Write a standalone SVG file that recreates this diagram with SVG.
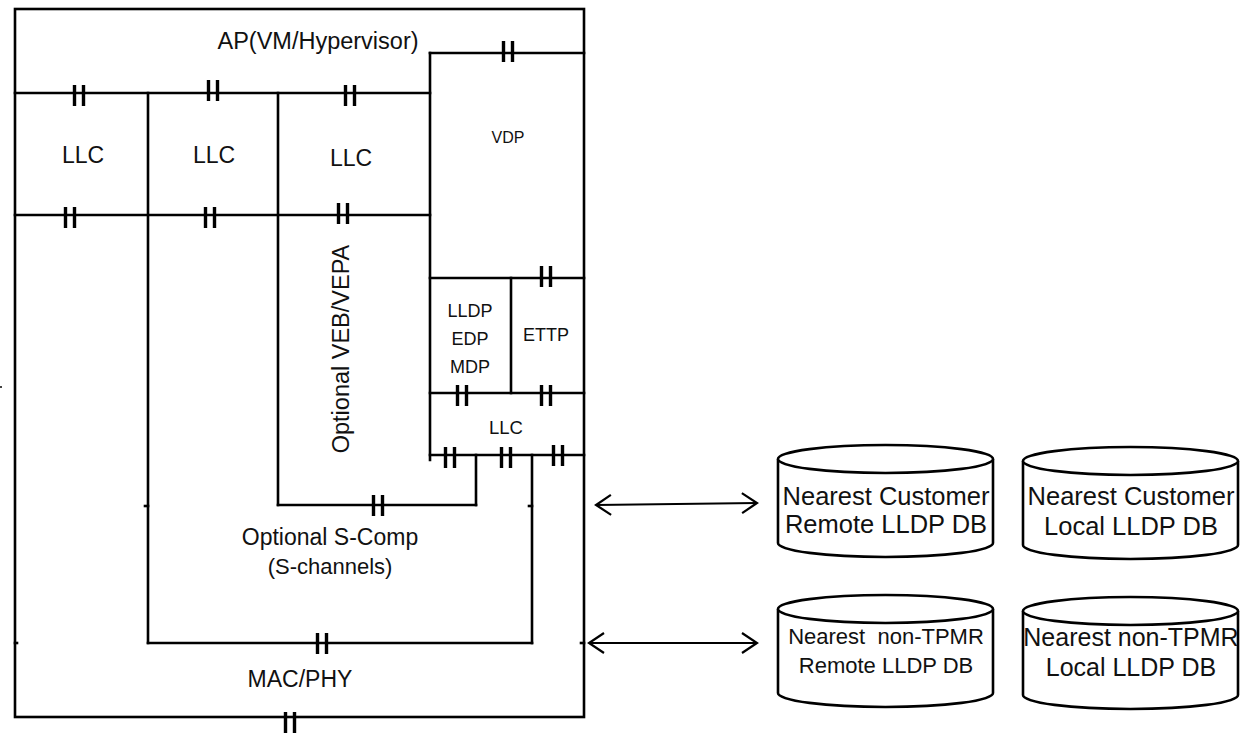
<svg xmlns="http://www.w3.org/2000/svg" xmlns:xlink="http://www.w3.org/1999/xlink" width="1242" height="734" viewBox="0 0 1242 734">
<style>
.ln{stroke:#000;stroke-width:2.6;fill:none;stroke-linecap:square}
.tk{stroke:#000;stroke-width:3.4;fill:none}
.t{font-family:"Liberation Sans",Arial,sans-serif;fill:#111;text-anchor:middle}
.cyl{fill:#fff;stroke:#000;stroke-width:2.6}
.arr{stroke:#000;stroke-width:2.2;fill:none}
</style>
<defs>
<g id="tick"><line class="tk" x1="-4.5" y1="-10" x2="-4.5" y2="11"/><line class="tk" x1="4.5" y1="-10" x2="4.5" y2="11"/></g>
<marker id="ah" markerWidth="22" markerHeight="24" refX="17" refY="12" orient="auto-start-reverse" markerUnits="userSpaceOnUse"><path d="M2,2 L17,12 L2,22" fill="none" stroke="#000" stroke-width="2.2"/></marker>
</defs>
<rect width="1242" height="734" fill="#fff"/>

<g id="stack">
<rect class="ln" x="15" y="9" width="569" height="708"/>
<line class="ln" x1="430" y1="53" x2="584" y2="53"/>
<line class="ln" x1="15" y1="93" x2="430" y2="93"/>
<line class="ln" x1="430" y1="53" x2="430" y2="460"/>
<line class="ln" x1="148" y1="93" x2="148" y2="643"/>
<line class="ln" x1="278" y1="93" x2="278" y2="505"/>
<line class="ln" x1="15" y1="215" x2="430" y2="215"/>
<line class="ln" x1="430" y1="278" x2="584" y2="278"/>
<line class="ln" x1="511" y1="278" x2="511" y2="393"/>
<line class="ln" x1="430" y1="393" x2="584" y2="393"/>
<line class="ln" x1="430" y1="455" x2="584" y2="455"/>
<line class="ln" x1="476" y1="455" x2="476" y2="505"/>
<line class="ln" x1="532" y1="455" x2="532" y2="643"/>
<line class="ln" x1="278" y1="505" x2="476" y2="505"/>
<line class="ln" x1="148" y1="643" x2="532" y2="643"/>
<line class="ln" x1="145" y1="506" x2="148" y2="506"/>
<line class="ln" x1="529" y1="506" x2="532" y2="506"/>
<line class="ln" x1="15" y1="643" x2="17" y2="643"/>
<line class="ln" x1="581" y1="643" x2="584" y2="643"/>
<rect x="0" y="386" width="2" height="2" fill="#444"/>
</g>

<g id="ticks">
<use xlink:href="#tick" x="508" y="51"/>
<use xlink:href="#tick" x="79" y="95"/>
<use xlink:href="#tick" x="213" y="90"/>
<use xlink:href="#tick" x="350" y="95"/>
<use xlink:href="#tick" x="70" y="217"/>
<use xlink:href="#tick" x="210" y="217"/>
<use xlink:href="#tick" x="343" y="213"/>
<use xlink:href="#tick" x="546" y="276"/>
<use xlink:href="#tick" x="462" y="395"/>
<use xlink:href="#tick" x="546" y="395"/>
<use xlink:href="#tick" x="450" y="457"/>
<use xlink:href="#tick" x="506" y="457"/>
<use xlink:href="#tick" x="558" y="455"/>
<use xlink:href="#tick" x="378" y="505"/>
<use xlink:href="#tick" x="322" y="643"/>
<use xlink:href="#tick" x="290" y="722"/>
</g>

<g id="labels">
<text class="t" x="318" y="49" font-size="23.5">AP(VM/Hypervisor)</text>
<text class="t" x="83" y="163" font-size="23">LLC</text>
<text class="t" x="214" y="163" font-size="23">LLC</text>
<text class="t" x="351" y="166" font-size="23">LLC</text>
<text class="t" x="508" y="143" font-size="16">VDP</text>
<text class="t" font-size="23.5" transform="translate(349,349) rotate(-90)">Optional VEB/VEPA</text>
<text class="t" x="470" y="317" font-size="18">LLDP</text>
<text class="t" x="470" y="345" font-size="18">EDP</text>
<text class="t" x="470" y="373" font-size="18">MDP</text>
<text class="t" x="546" y="341" font-size="18">ETTP</text>
<text class="t" x="506" y="434" font-size="18.5">LLC</text>
<text class="t" x="330" y="545" font-size="23">Optional S-Comp</text>
<text class="t" x="330" y="574" font-size="22">(S-channels)</text>
<text class="t" x="300" y="687" font-size="23">MAC/PHY</text>
</g>

<g id="connectors">
<line class="arr" x1="596" y1="505" x2="757" y2="503" marker-start="url(#ah)" marker-end="url(#ah)"/>
<line class="arr" x1="589" y1="643" x2="757" y2="643" marker-start="url(#ah)" marker-end="url(#ah)"/>
</g>

<g id="db1">
<path class="cyl" d="M778,459 A107.5,14 0 0 1 993,459 V543 A107.5,14 0 0 1 778,543 Z"/>
<path class="cyl" d="M778,459 A107.5,14 0 0 0 993,459" fill="none"/>
<text class="t" x="886" y="505" font-size="25.5">Nearest Customer</text>
<text class="t" x="886" y="533" font-size="25.5">Remote LLDP DB</text>
</g>
<g id="db2">
<path class="cyl" d="M1023,461 A107.5,14 0 0 1 1238,461 V545 A107.5,14 0 0 1 1023,545 Z"/>
<path class="cyl" d="M1023,461 A107.5,14 0 0 0 1238,461" fill="none"/>
<text class="t" x="1131" y="505" font-size="25.5">Nearest Customer</text>
<text class="t" x="1131" y="535" font-size="25.5">Local LLDP DB</text>
</g>
<g id="db3">
<path class="cyl" d="M778,609 A107.5,14 0 0 1 993,609 V693 A107.5,14 0 0 1 778,693 Z"/>
<path class="cyl" d="M778,609 A107.5,14 0 0 0 993,609" fill="none"/>
<text class="t" x="886" y="644" font-size="22" xml:space="preserve">Nearest  non-TPMR</text>
<text class="t" x="886" y="673" font-size="22">Remote LLDP DB</text>
</g>
<g id="db4">
<path class="cyl" d="M1023,611 A107.5,14 0 0 1 1238,611 V695 A107.5,14 0 0 1 1023,695 Z"/>
<path class="cyl" d="M1023,611 A107.5,14 0 0 0 1238,611" fill="none"/>
<text class="t" x="1131" y="646" font-size="25">Nearest non-TPMR</text>
<text class="t" x="1131" y="676" font-size="25">Local LLDP DB</text>
</g>
</svg>
